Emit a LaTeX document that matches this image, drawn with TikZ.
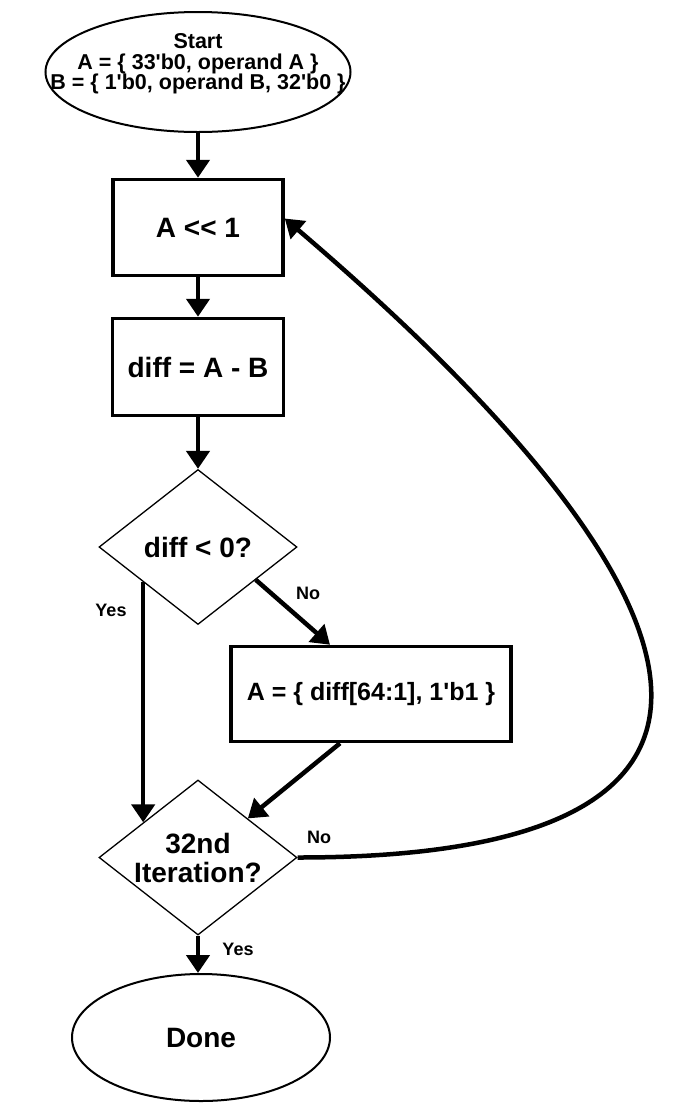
\documentclass[tikz,border=0pt]{standalone}
\usepackage{fontspec}
\setmainfont{Liberation Sans}
\usetikzlibrary{shapes.geometric,arrows.meta,calc}
\newcommand{\bitq}{\textquotesingle}

\begin{document}
\begin{tikzpicture}[x=1pt,y=-1pt,
  txt/.style={font=\bfseries\fontsize{28}{29}\selectfont, align=center, inner sep=0pt},
  smalltxt/.style={font=\bfseries\fontsize{25}{27}\selectfont, align=center, inner sep=0pt},
  starttxt/.style={font=\bfseries\fontsize{21.5}{20.5}\selectfont, align=center, inner sep=0pt},
  proc/.style={draw, line width=3.5pt, rectangle, inner sep=0pt},
  decision/.style={draw, line width=1.3pt, diamond, minimum width=198pt, minimum height=155pt, inner sep=0pt},
  terminal/.style={draw, line width=2pt, ellipse, inner sep=0pt},
  arr/.style={line width=4.5pt, -{Triangle[width=23pt,length=18pt]}},
  lbl/.style={font=\bfseries\fontsize{18}{20}\selectfont, inner sep=0pt}]
\useasboundingbox[fill=white] (0,0) rectangle (674,1120);

% flow nodes
\node[terminal, minimum width=305pt, minimum height=120pt,
      label={[starttxt, yshift=8pt]center:{Start\\A = \{ 33\bitq b0, operand A \}\\B = \{ 1\bitq b0, operand B, 32\bitq b0 \}}}]
      (start) at (198,72) {};
\node[proc, txt, minimum width=170pt, minimum height=96pt] (b1) at (198,227.5) {A <\kern0pt< 1};
\node[proc, txt, minimum width=171pt, minimum height=97pt] (b2) at (198,367) {diff = A - B};
\node[decision, label={[txt]center:{diff < 0?}}] (d1) at (198,547) {};
\node[proc, smalltxt, minimum width=280pt, minimum height=95pt] (b3) at (371,694) {A = \{ diff[64:1], 1\bitq b1 \}};
\node[decision, label={[txt]center:{32nd\\Iteration?}}] (d2) at (198,857.5) {};
\node[terminal, txt, minimum width=258pt, minimum height=127pt] (done) at (201,1037.5) {Done};

% connectors
\draw[arr] (start.south) -- (b1.north);
\draw[arr] (b1) -- (b2);
\draw[arr] (b2) -- (d1);
\draw[arr] ($(d1.west)!0.45!(d1.south)$) -- ($(d2.west)!0.45!(d2.north)$);
\draw[arr] ($(d1.east)!0.42!(d1.south)$) -- ([xshift=-41pt]b3.north);
\draw[arr] ([xshift=-31pt]b3.south) -- ($(d2.north)!0.5!(d2.east)$);
\draw[arr] (d2.east) .. controls +(523,0) and +(430,367) .. ([yshift=9pt]b1.east);
\draw[arr] (d2.south) -- (d2.south |- done.north);

% branch labels
\node[lbl] (yes1) at (111,610) {Yes};
\node[lbl] (no1) at (308,593) {No};
\node[lbl] (no2) at (319,837) {No};
\node[lbl] (yes2) at (238,949) {Yes};
\end{tikzpicture}
\end{document}
